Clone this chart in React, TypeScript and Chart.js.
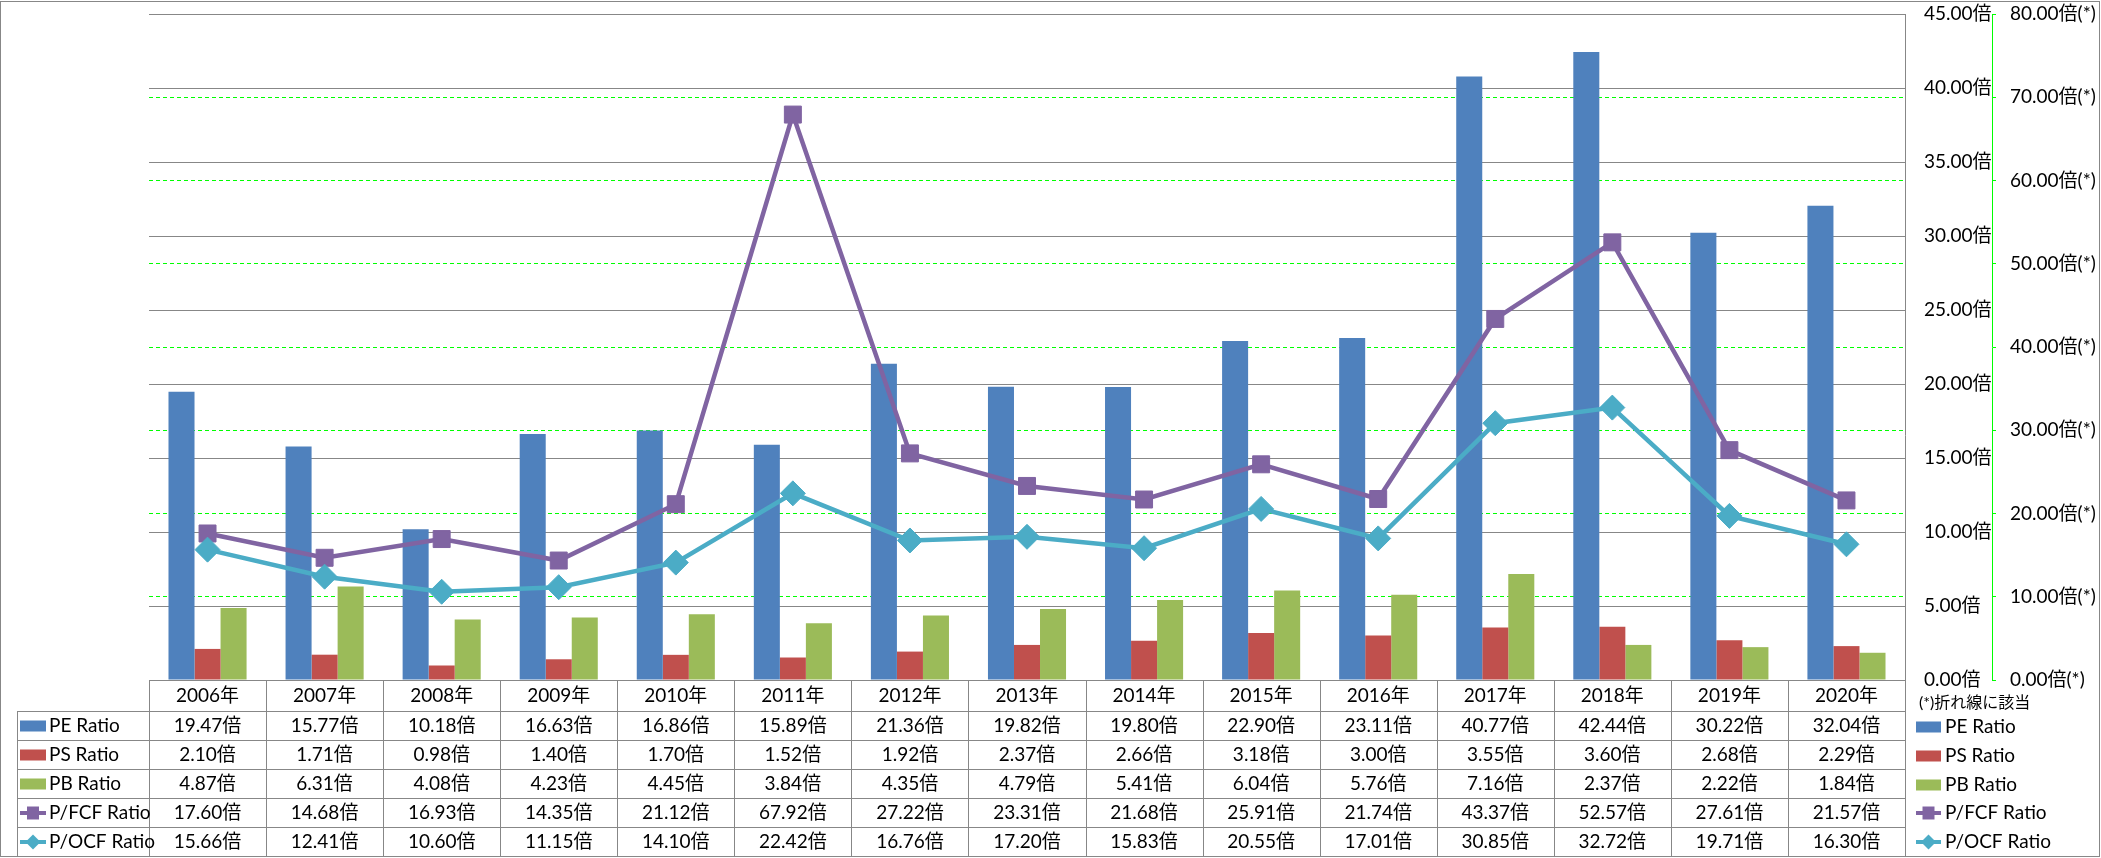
import React, { useEffect, useRef } from 'react';
import { Chart, registerables } from 'chart.js';

Chart.register(...registerables);

const years = ['2006年', '2007年', '2008年', '2009年', '2010年', '2011年', '2012年', '2013年', '2014年', '2015年', '2016年', '2017年', '2018年', '2019年', '2020年'];
const peRatio = [19.47, 15.77, 10.18, 16.63, 16.86, 15.89, 21.36, 19.82, 19.80, 22.90, 23.11, 40.77, 42.44, 30.22, 32.04];
const psRatio = [2.10, 1.71, 0.98, 1.40, 1.70, 1.52, 1.92, 2.37, 2.66, 3.18, 3.00, 3.55, 3.60, 2.68, 2.29];
const pbRatio = [4.87, 6.31, 4.08, 4.23, 4.45, 3.84, 4.35, 4.79, 5.41, 6.04, 5.76, 7.16, 2.37, 2.22, 1.84];
const pfcfRatio = [17.60, 14.68, 16.93, 14.35, 21.12, 67.92, 27.22, 23.31, 21.68, 25.91, 21.74, 43.37, 52.57, 27.61, 21.57];
const pocfRatio = [15.66, 12.41, 10.60, 11.15, 14.10, 22.42, 16.76, 17.20, 15.83, 20.55, 17.01, 30.85, 32.72, 19.71, 16.30];

const seriesNames = ['PE Ratio', 'PS Ratio', 'PB Ratio', 'P/FCF Ratio', 'P/OCF Ratio'];
const seriesColors = ['#4F81BD', '#C0504D', '#9BBB59', '#8064A2', '#4BACC6'];
const seriesKinds = ['bar', 'bar', 'bar', 'square', 'diamond'];
const seriesValues = [peRatio, psRatio, pbRatio, pfcfRatio, pocfRatio];
const noteText = '(*)折れ線に該当';

const FONT = "Lato, 'Noto Sans CJK JP', sans-serif";
const GRID = '#878787';

function drawKey(ctx: CanvasRenderingContext2D, kind: string, color: string, x: number, cy: number, w: number) {
  ctx.save();
  if (kind === 'bar') {
    ctx.fillStyle = color;
    ctx.fillRect(x, cy - 5.5, w, 11);
  } else {
    ctx.strokeStyle = color;
    ctx.lineWidth = 4;
    ctx.beginPath();
    ctx.moveTo(x, cy);
    ctx.lineTo(x + w, cy);
    ctx.stroke();
    ctx.fillStyle = color;
    const mx = x + w / 2;
    if (kind === 'square') {
      ctx.beginPath();
      ctx.rect(mx - 6, cy - 6.5, 12, 13);
      ctx.fill();
    } else {
      ctx.beginPath();
      ctx.moveTo(mx, cy - 7.5);
      ctx.lineTo(mx + 7.5, cy);
      ctx.lineTo(mx, cy + 7.5);
      ctx.lineTo(mx - 7.5, cy);
      ctx.closePath();
      ctx.fill();
    }
  }
  ctx.restore();
}

const tablePlugin = {
  id: 'dataTable',
  afterDraw(chart: any) {
    const ctx: CanvasRenderingContext2D = chart.ctx;
    const area = chart.chartArea;
    const xs = chart.scales.x;
    const n = years.length;
    const colW = (area.right - area.left) / n;
    const rowsY = [680.5, 711.5, 740.5, 769.5, 798.5, 827.5, 856.5];
    ctx.save();
    ctx.strokeStyle = GRID;
    ctx.lineWidth = 1;
    const line = (x1: number, y1: number, x2: number, y2: number) => {
      ctx.beginPath();
      ctx.moveTo(x1, y1);
      ctx.lineTo(x2, y2);
      ctx.stroke();
    };
    ctx.strokeRect(0.5, 1.5, 2099, 855);
    line(area.left, rowsY[0], area.right, rowsY[0]);
    for (let i = 1; i < rowsY.length; i++) line(17, rowsY[i], area.right, rowsY[i]);
    for (let k = 0; k <= n; k++) {
      const x = Math.round(area.left + k * colW) + 0.5;
      line(x, rowsY[0], x, rowsY[6]);
    }
    line(17.5, rowsY[1], 17.5, rowsY[6]);
    line(Math.round(area.right) + 0.5, area.top, Math.round(area.right) + 0.5, 857);

    ctx.fillStyle = '#000';
    ctx.font = `19px ${FONT}`;
    ctx.textAlign = 'center';
    ctx.textBaseline = 'middle';
    for (let i = 0; i < n; i++) {
      const cx = xs.getPixelForValue(i);
      ctx.fillText(years[i], cx, (rowsY[0] + rowsY[1]) / 2);
      for (let s = 0; s < seriesValues.length; s++) {
        const cy = (rowsY[s + 1] + rowsY[s + 2]) / 2;
        ctx.fillText(seriesValues[s][i].toFixed(2) + '倍', cx, cy);
      }
    }
    ctx.textAlign = 'left';
    for (let s = 0; s < seriesNames.length; s++) {
      const cy = (rowsY[s + 1] + rowsY[s + 2]) / 2;
      drawKey(ctx, seriesKinds[s], seriesColors[s], 20, cy, 26);
      ctx.fillStyle = '#000';
      ctx.fillText(seriesNames[s], 49, cy);
    }
    ctx.font = `16px ${FONT}`;
    ctx.fillText(noteText, 1919, 703);
    ctx.font = `19px ${FONT}`;
    const legY = [727, 756, 785, 813, 842];
    for (let s = 0; s < seriesNames.length; s++) {
      drawKey(ctx, seriesKinds[s], seriesColors[s], 1916, legY[s], 25);
      ctx.fillStyle = '#000';
      ctx.fillText(seriesNames[s], 1945, legY[s]);
    }
    ctx.restore();
  },
};

export default function App() {
  const ref = useRef<HTMLCanvasElement | null>(null);
  useEffect(() => {
    document.body.style.margin = '0';
    const canvas = ref.current;
    if (!canvas) return;
    const chart = new Chart(canvas, {
      type: 'bar',
      data: {
        labels: years,
        datasets: [
          { type: 'line', label: seriesNames[4], data: pocfRatio, yAxisID: 'y1', order: 0, borderColor: seriesColors[4], backgroundColor: seriesColors[4], borderWidth: 4.5, pointStyle: 'rectRot', pointRadius: 12.5, pointBorderWidth: 1, pointBackgroundColor: seriesColors[4], pointBorderColor: seriesColors[4], tension: 0 },
          { type: 'line', label: seriesNames[3], data: pfcfRatio, yAxisID: 'y1', order: 1, borderColor: seriesColors[3], backgroundColor: seriesColors[3], borderWidth: 4.5, pointStyle: 'rect', pointRadius: 12, pointBorderWidth: 1, pointBackgroundColor: seriesColors[3], pointBorderColor: seriesColors[3], tension: 0 },
          { type: 'bar', label: seriesNames[0], data: peRatio, yAxisID: 'y', order: 2, backgroundColor: seriesColors[0], borderWidth: 0, barPercentage: 1, categoryPercentage: 0.667 },
          { type: 'bar', label: seriesNames[1], data: psRatio, yAxisID: 'y', order: 2, backgroundColor: seriesColors[1], borderWidth: 0, barPercentage: 1, categoryPercentage: 0.667 },
          { type: 'bar', label: seriesNames[2], data: pbRatio, yAxisID: 'y', order: 2, backgroundColor: seriesColors[2], borderWidth: 0, barPercentage: 1, categoryPercentage: 0.667 },
        ],
      } as any,
      options: {
        responsive: false,
        animation: false,
        devicePixelRatio: 1,
        layout: { padding: { left: 149, top: 14, right: 0, bottom: 178 } },
        plugins: { legend: { display: false }, tooltip: { enabled: false } },
        scales: {
          x: { display: false, offset: true },
          y: {
            position: 'right',
            weight: 0,
            min: 0,
            max: 45,
            afterFit: (s: any) => { s.width = 87; s.paddingTop = 0; s.paddingBottom = 0; },
            ticks: { stepSize: 5, padding: 19, color: '#000', font: { family: FONT, size: 19 }, callback: (v: any) => Number(v).toFixed(2) + '倍' },
            grid: { color: GRID, lineWidth: 1, drawTicks: false, z: -1 },
            border: { display: false },
          },
          y1: {
            position: 'right',
            weight: 1,
            min: 0,
            max: 80,
            afterFit: (s: any) => { s.width = 109; s.paddingTop = 0; s.paddingBottom = 0; },
            ticks: { stepSize: 10, padding: 14, color: '#000', font: { family: FONT, size: 19 }, callback: (v: any) => Number(v).toFixed(2) + '倍(*)' },
            grid: { color: '#00FF00', lineWidth: 1, drawTicks: true, tickLength: 4, borderDash: [4, 3], tickBorderDash: [4, 3], z: -2 },
            border: { display: true, color: '#00FF00', width: 1, dash: [4, 3] },
          },
        },
      } as any,
      plugins: [tablePlugin],
    });
    return () => chart.destroy();
  }, []);
  return (
    <div style={{ position: 'fixed', left: 0, top: 0, width: 2101, height: 858, background: '#fff' }}>
      <canvas ref={ref} width={2101} height={858} style={{ display: 'block', width: 2101, height: 858 }} />
    </div>
  );
}
